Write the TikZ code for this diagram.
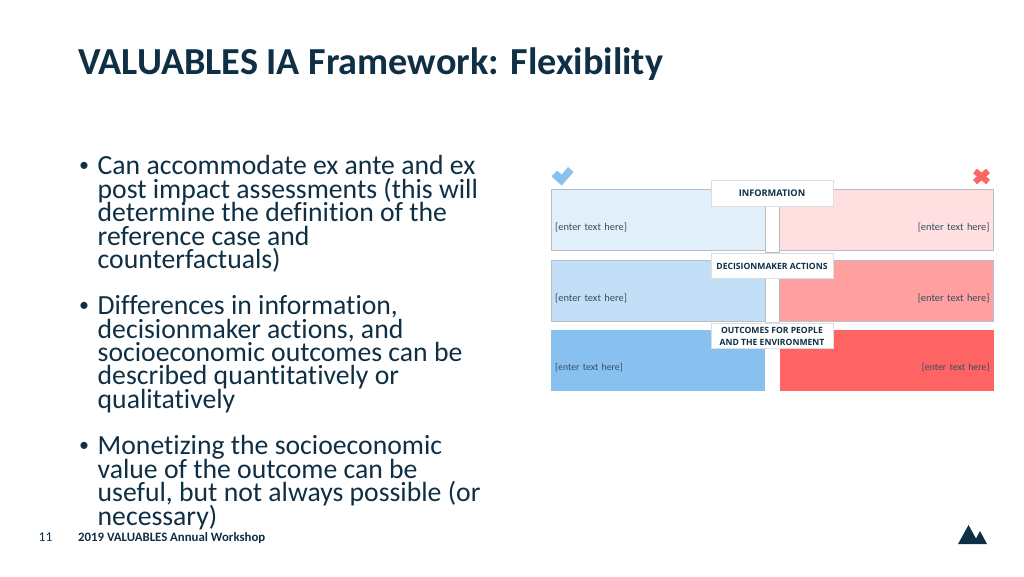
\documentclass[tikz,border=0pt]{standalone}
\usepackage{fontspec}
\setmainfont{Carlito}[Ligatures=NoCommon]
\newfontfamily\labelfont{Open Sans}
\newcommand{\tightlines}{\setlength{\lineskiplimit}{-100pt}}
\definecolor{inkblue}{HTML}{0F2F45}
\definecolor{panelline}{HTML}{B8BEC4}
\definecolor{blueA}{HTML}{E1EFFB}
\definecolor{blueB}{HTML}{C2DFF7}
\definecolor{blueC}{HTML}{88C0F0}
\definecolor{redA}{HTML}{FFDFDF}
\definecolor{redB}{HTML}{FF9F9F}
\definecolor{redC}{HTML}{FF6464}
\tikzset{
  bullettext/.style = {anchor=north west, inner sep=0pt, align=left, text=inkblue,
    font=\fontsize{27.7}{23.4}\selectfont\tightlines},
  bulletdot/.style = {anchor=base, inner sep=0pt, text=inkblue, font=\fontsize{20}{23.4}\selectfont},
  panel/.style = {draw=panelline, line width=0.8pt, minimum width=214pt, minimum height=61pt,
    inner sep=4pt, text width=206pt, text height=20pt, text depth=0pt, text=inkblue!85!white,
    font=\fontsize{10.4}{12}\selectfont},
  panelbottom/.style = {panel, draw=none, font=\fontsize{9.8}{12}\selectfont},
  headbox/.style = {fill=white, draw=panelline!50!white, line width=0.6pt, minimum width=122pt, inner sep=0pt,
    align=center, text=inkblue, font=\labelfont\bfseries\fontsize{8.6}{12}\selectfont},
}
\begin{document}
\begin{tikzpicture}[x=1pt,y=-1pt]
\useasboundingbox (0,0) rectangle (1024,576);
\node[anchor=base west, inner sep=0pt, text=inkblue, font=\bfseries\fontsize{38.2}{40}\selectfont] (title) at (78,74) {VALUABLES IA Framework: Flexibility};
% bullets
\node[bulletdot] (dotone) at (84,171) {\textbullet};
\node[bullettext] (textone) at (97.5,155.5) {Can accommodate ex ante and ex\\post impact assessments (this will\\determine the definition of the\\reference case and\\counterfactuals)};
\node[bulletdot] (dottwo) at (84,311) {\textbullet};
\node[bullettext] (texttwo) at (97.5,295.5) {Differences in information,\\decisionmaker actions, and\\socioeconomic outcomes can be\\described quantitatively or\\qualitatively};
\node[bulletdot] (dotthree) at (84,451) {\textbullet};
\node[bullettext] (textthree) at (97.5,435.5) {Monetizing the socioeconomic\\value of the outcome can be\\useful, but not always possible (or\\necessary)};
% footer
\node[anchor=base, inner sep=0pt, text=inkblue, font=\fontsize{13.5}{14}\selectfont] (pagenum) at (45.5,541) {11};
\node[anchor=base west, inner sep=0pt, text=inkblue, font=\bfseries\fontsize{12.8}{14}\selectfont] (footer) at (78,541) {2019 VALUABLES Annual Workshop};
\fill[inkblue] (958,544) -- (968.5,525) -- (976,538.5) -- (980,531) -- (987,544) -- cycle;
% check and cross
\fill[blueC] (551.5,176.5) -- (557,170.7) -- (561.7,174.5) -- (568,167) -- (573.5,172) -- (561.7,185.5) -- cycle;
\draw[redC, line width=6pt, line join=round] (975,171) -- (988,182);
\draw[redC, line width=6pt, line join=round] (988,171) -- (975,182);
% white strip behind the heads
\draw[panelline, line width=0.8pt] (765.5,205) rectangle (779.5,252);
\draw[panelline!60!white, line width=0.8pt] (765.5,260) rectangle (779.5,322);
% panels
\node[panel, fill=blueA, align=left] (infoleft) at (658.2,220.2) {[enter text here]};
\node[panel, fill=redA, align=right] (inforight) at (886.5,220.2) {[enter text here]};
\node[panel, fill=blueB, align=left] (actleft) at (658.2,291) {[enter text here]};
\node[panel, fill=redB, align=right] (actright) at (886.5,291) {[enter text here]};
\node[panelbottom, fill=blueC, align=left] (outleft) at (658.2,360.5) {[enter text here]};
\node[panelbottom, fill=redC, align=right] (outright) at (886.5,360.5) {[enter text here]};
% heads
\node[headbox, minimum height=26pt, font=\labelfont\bfseries\fontsize{9.2}{12}\selectfont] (infohead) at (772,193.3) {INFORMATION};
\node[headbox, minimum height=25pt] (acthead) at (772,266) {DECISIONMAKER ACTIONS};
\node[headbox, minimum height=25pt] (outhead) at (772,336) {OUTCOMES FOR PEOPLE\\AND THE ENVIRONMENT};
\end{tikzpicture}
\end{document}
